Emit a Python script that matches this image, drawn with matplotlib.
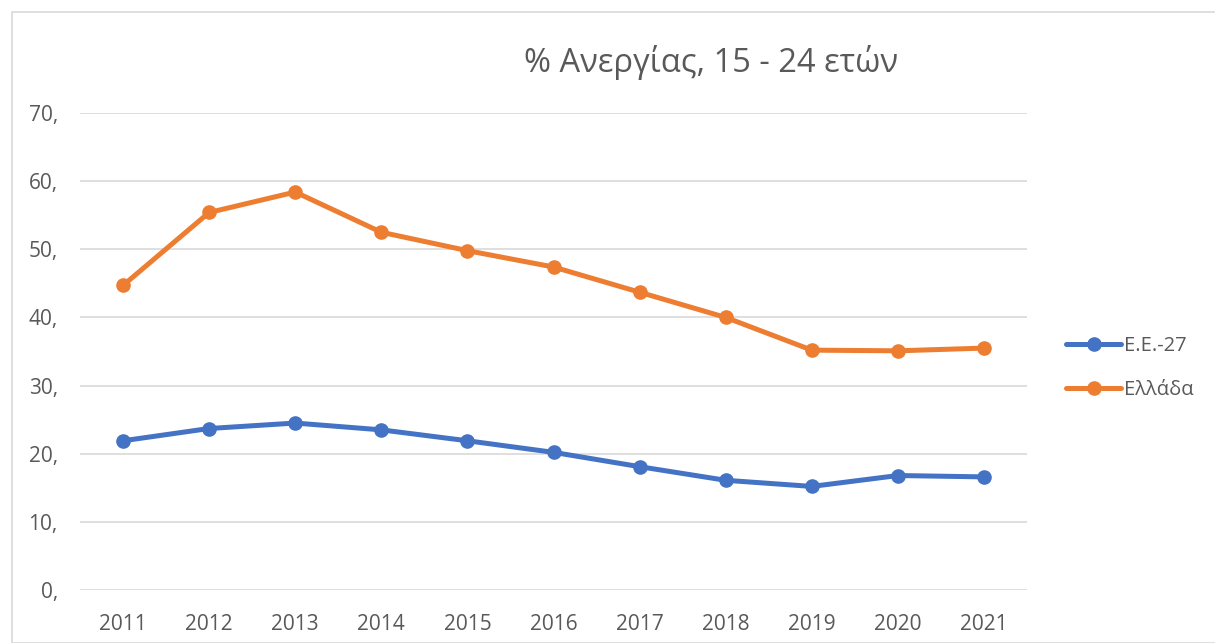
import matplotlib
matplotlib.use("Agg")
import matplotlib.pyplot as plt
from matplotlib.patches import Rectangle

years = ["2011", "2012", "2013", "2014", "2015", "2016", "2017", "2018", "2019", "2020", "2021"]
eu27 = [21.9, 23.7, 24.5, 23.5, 21.9, 20.2, 18.1, 16.1, 15.2, 16.8, 16.6]
greece = [44.7, 55.4, 58.4, 52.5, 49.8, 47.4, 43.7, 40.0, 35.2, 35.1, 35.5]
series_names = ["Ε.Ε.-27", "Ελλάδα"]
yticks = [0, 10, 20, 30, 40, 50, 60, 70]
title = "% Ανεργίας, 15 - 24 ετών"

plt.rcParams['font.family'] = ['Open Sans', 'DejaVu Sans']
W, H = 1215, 643
fig = plt.figure(figsize=(W / 100, H / 100), dpi=100)

# outer chart border
fig.patches.append(Rectangle((12 / W, 0), 1.2, 1 - 12 / H, transform=fig.transFigure,
                             fill=False, edgecolor="#d9d9d9", linewidth=1.2))

ax = fig.add_axes([80 / W, (H - 590) / H, (1027 - 80) / W, (590 - 113) / H])
x = list(range(len(years)))
blue = "#4472c4"
orange = "#ed7d31"
ax.plot(x, eu27, color=blue, lw=3.6, marker="o", ms=9.5, label=series_names[0],
        solid_capstyle="round", zorder=3)
ax.plot(x, greece, color=orange, lw=3.6, marker="o", ms=9.5, label=series_names[1],
        solid_capstyle="round", zorder=3)

ax.set_xlim(-0.5, len(years) - 0.5)
ax.set_ylim(0, 70)
ax.set_yticks(yticks)
ax.set_yticklabels([f"{v}," for v in yticks])
ax.set_xticks(x)
ax.set_xticklabels(years)
ax.grid(axis="y", color="#d9d9d9", lw=1.2)
ax.set_axisbelow(True)
for s in ax.spines.values():
    s.set_visible(False)
ax.tick_params(axis="both", length=0, labelsize=15, colors="#595959")
ax.tick_params(axis="y", pad=16)
ax.tick_params(axis="x", pad=17)

fig.text(711 / W, 1 - 62 / H, title, ha="center", va="center", fontsize=23.5, color="#595959")

leg = ax.legend(loc="center left", bbox_to_anchor=(1066 / W, 1 - 368 / H),
                bbox_transform=fig.transFigure, frameon=False, fontsize=14.5,
                handlelength=2.75, handletextpad=0.12, labelspacing=1.15, borderaxespad=0,
                borderpad=0)
for t in leg.get_texts():
    t.set_color("#595959")

fig.savefig("out.png", dpi=100)
